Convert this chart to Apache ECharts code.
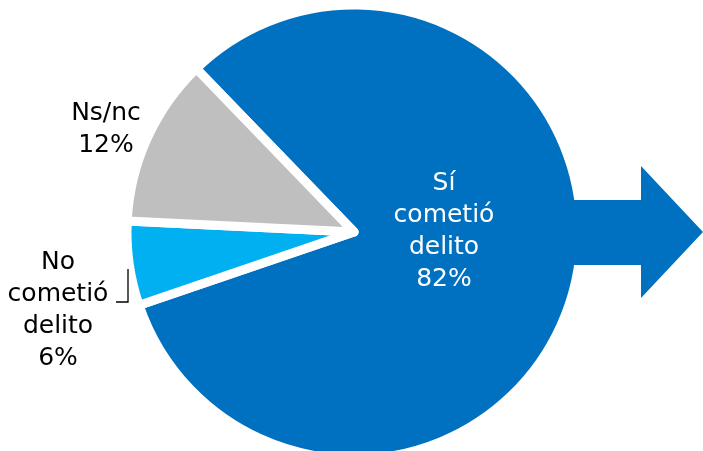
<!DOCTYPE html>
<html>
<head>
<meta charset="utf-8">
<script src="https://cdn.jsdelivr.net/npm/echarts@6/dist/echarts.min.js"></script>
<style>
  html, body { margin: 0; padding: 0; background: #fff; }
  #main { width: 703px; height: 451px; }
</style>
</head>
<body>
<div id="main"></div>
<script>
// data
const categories = ['Sí cometió delito', 'No cometió delito', 'Ns/nc'];
const values = [82, 6, 12];
const colors = ['#0070C0', '#00B0F0', '#BFBFBF'];
const labelColors = ['#ffffff', '#000000', '#000000'];

// where each label sits (centre of the text block)
const labelPos = [[444, 231], [58, 310], [106, 129]];

const chart = echarts.init(document.getElementById('main'));

const pieData = categories.map(function (name, i) {
    return {
        name: name,
        value: values[i],
        itemStyle: { color: colors[i] },
        label: { color: labelColors[i] }
    };
});

chart.setOption({
    backgroundColor: '#ffffff',
    animation: false,
    series: [
        {
            type: 'pie',
            center: [354, 232],
            radius: 227,
            startAngle: 134,
            clockwise: true,
            silent: true,
            itemStyle: {
                borderColor: '#ffffff',
                borderWidth: 9,
                borderJoin: 'round'
            },
            label: {
                show: true,
                position: 'inside',
                overflow: 'none',
                fontFamily: 'DejaVu Sans',
                fontSize: 25,
                lineHeight: 32,
                align: 'center',
                formatter: function (p) {
                    return p.name.split(' ').join('\n') + '\n' + p.value + '%';
                }
            },
            labelLine: { show: false },
            labelLayout: function (params) {
                const pos = labelPos[params.dataIndex];
                return { x: pos[0], y: pos[1], align: 'center', verticalAlign: 'middle' };
            },
            data: pieData
        }
    ],
    graphic: [
        {
            // arrow leaving the big slice
            type: 'polygon',
            z: 100,
            shape: {
                points: [[550, 200], [641, 200], [641, 166], [703, 232], [641, 298], [641, 265], [550, 265]]
            },
            style: { fill: '#0070C0' }
        },
        {
            // small leader for "No cometió delito"
            type: 'polyline',
            z: 100,
            shape: { points: [[116, 302], [128, 302], [128, 269]] },
            style: { stroke: '#000000', lineWidth: 1.3, fill: null }
        }
    ]
});
</script>
</body>
</html>
